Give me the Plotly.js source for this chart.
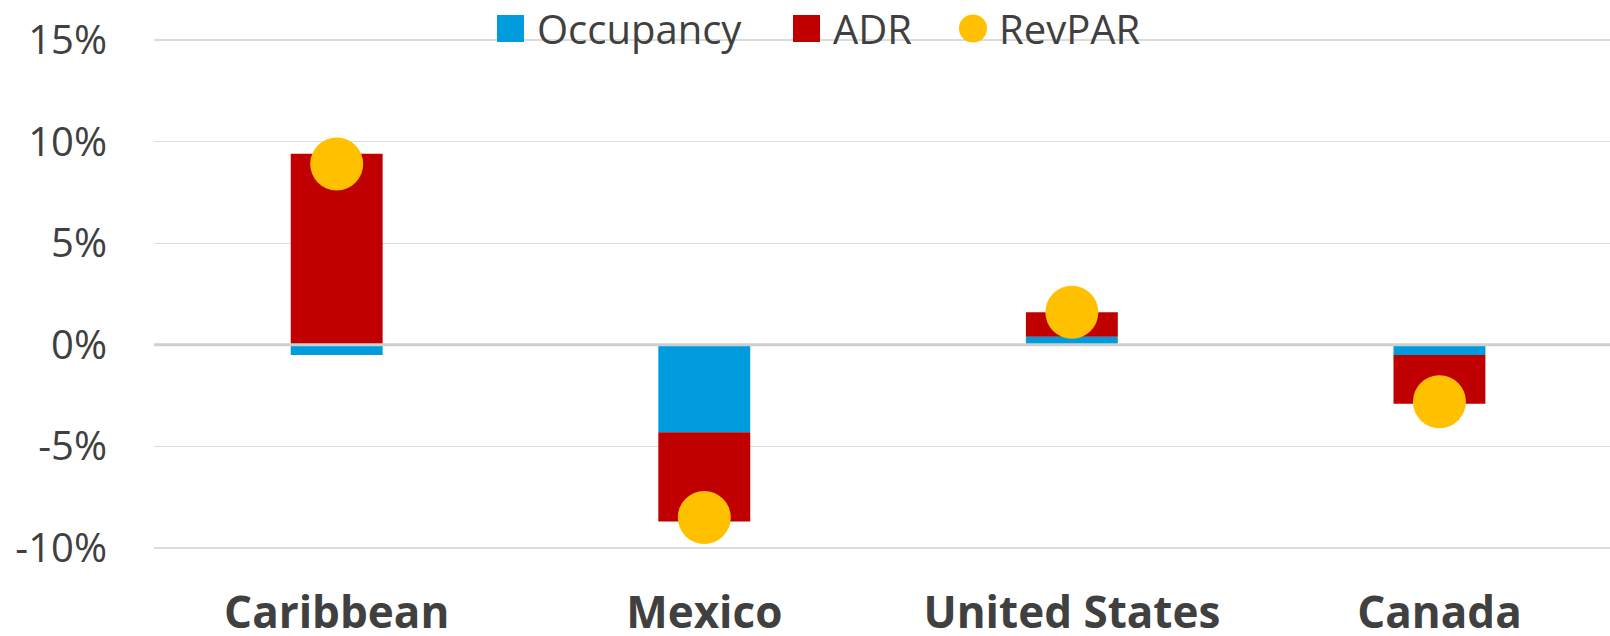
<!DOCTYPE html>
<html><head><meta charset="utf-8">
<script src="https://cdn.plot.ly/plotly-3.0.1.min.js"></script>
<style>html,body{margin:0;padding:0;background:#fff}#chart{width:1610px;height:636px}</style>
</head><body><div id="chart"></div>
<script>
const categories = ["Caribbean", "Mexico", "United States", "Canada"];
const occupancy = [-0.5, -4.3, 0.4, -0.5];
const adr = [9.4, -4.4, 1.2, -2.4];
const revpar = [8.9, -8.5, 1.6, -2.8];
const seriesNames = ["Occupancy", "ADR", "RevPAR"];
const tickVals = [-10, -5, 0, 5, 10, 15];
const tickLabels = ["-10%", "-5%", "0%", "5%", "10%", "15%"];

const W = 1610, H = 636;
const M = {l: 154, r: 0, t: 37, b: 85};
const colors = {occ: "#009CDE", adr: "#C00000", rev: "#FFC000"};
const txt = "#404040";

// pixel -> paper helpers (for the hand-drawn legend only)
const px = x => (x - M.l) / (W - M.l - M.r);
const py = y => (H - M.b - y) / (H - M.t - M.b);

const traces = [
  {type: "bar", name: seriesNames[0], x: categories, y: occupancy, marker: {color: colors.occ}, hoverinfo: "skip"},
  {type: "bar", name: seriesNames[1], x: categories, y: adr, marker: {color: colors.adr}, hoverinfo: "skip"},
  {type: "scatter", mode: "markers", name: seriesNames[2], x: categories, y: revpar,
   marker: {color: colors.rev, size: 53, line: {width: 0}}, hoverinfo: "skip"}
];

const legY0 = 15, legY1 = 42, legYm = 28.5;
const shapes = [
  {type: "line", xref: "paper", x0: 0, x1: 1, yref: "y", y0: 0, y1: 0, layer: "above",
   line: {color: "#cfcfcf", width: 3}},
  {type: "rect", xref: "paper", yref: "paper", x0: px(497), x1: px(524), y0: py(legY1), y1: py(legY0),
   fillcolor: colors.occ, line: {width: 0}},
  {type: "rect", xref: "paper", yref: "paper", x0: px(793), x1: px(820), y0: py(legY1), y1: py(legY0),
   fillcolor: colors.adr, line: {width: 0}},
  {type: "circle", xref: "paper", yref: "paper", x0: px(959), x1: px(987), y0: py(legY1 + 0.5), y1: py(legY0 - 0.5),
   fillcolor: colors.rev, line: {width: 0}}
];
const legTextX = [535, 831, 997];
const annotations = seriesNames.map((n, i) => ({
  xref: "paper", yref: "paper", x: px(legTextX[i]), y: py(legYm), xanchor: "left", yanchor: "middle",
  text: n, showarrow: false, font: {family: "Open Sans", size: 40, color: txt}
}));

const layout = {
  width: W, height: H, margin: M, paper_bgcolor: "#fff", plot_bgcolor: "#fff",
  barmode: "relative", bargap: 0.75, showlegend: false,
  font: {family: "Open Sans", color: txt},
  xaxis: {type: "category", range: [-0.497, 3.464], showgrid: false, zeroline: false, showline: false, ticks: "",
          tickfont: {family: "Open Sans", size: 44, color: txt, weight: "bold"}, ticklabelstandoff: 32},
  yaxis: {range: [-10.15, 15.15], tickvals: tickVals, ticktext: tickLabels, showgrid: true,
          gridcolor: "#dcdcdc", gridwidth: 1.3, zeroline: false, showline: false, ticks: "",
          tickfont: {family: "Open Sans", size: 40, color: txt}, ticklabelstandoff: 46},
  shapes: shapes, annotations: annotations
};
Plotly.newPlot("chart", traces, layout, {staticPlot: true, displayModeBar: false});
</script></body></html>
